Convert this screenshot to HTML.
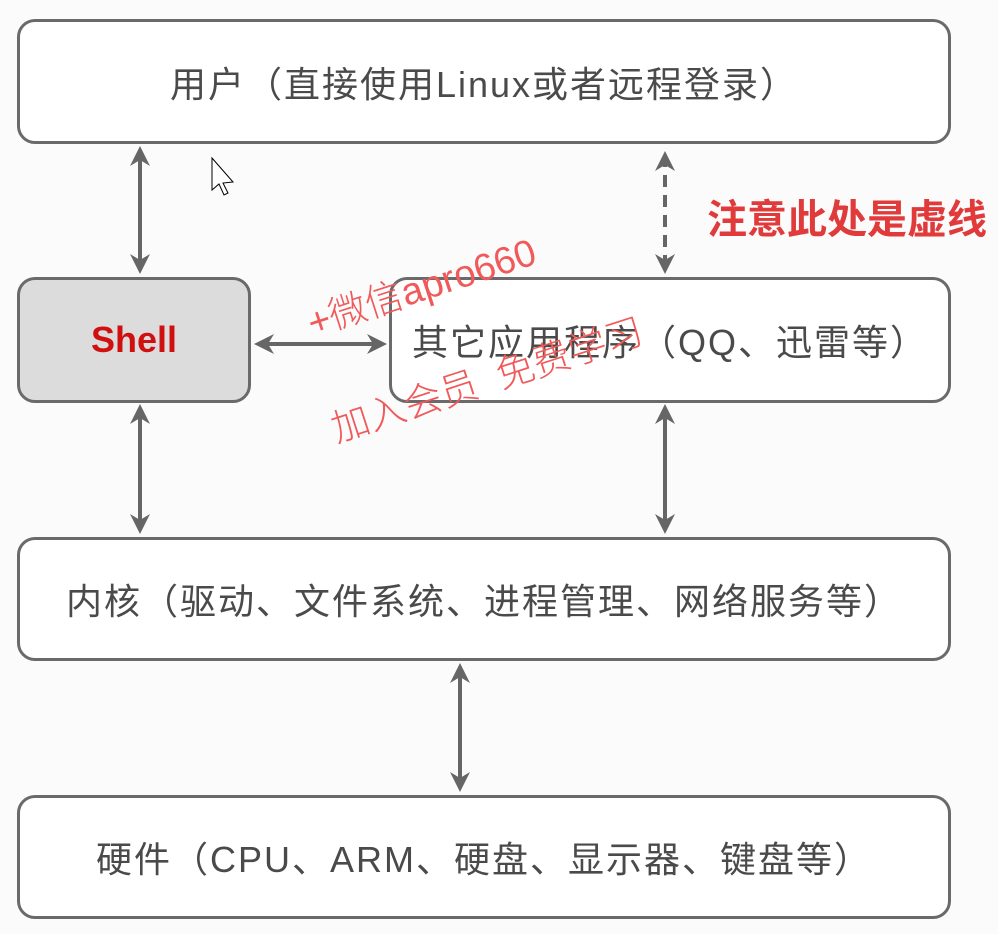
<!DOCTYPE html>
<html><head><meta charset="utf-8"><style>
html,body{margin:0;padding:0;}
body{width:998px;height:934px;background:#fbfbfc;position:relative;overflow:hidden;font-family:"Liberation Sans","Noto Sans CJK SC",sans-serif;}
.box{position:absolute;box-sizing:border-box;border:3px solid #6a6a6a;border-radius:18px;background:#fff;display:flex;align-items:center;justify-content:center;color:#4a4a4a;font-size:36px;letter-spacing:2px;}
.wm{position:absolute;color:#f05a5a;font-size:38px;white-space:nowrap;transform-origin:left bottom;font-weight:300;}
</style></head><body>
<div class="box" style="left:17px;top:19px;width:934px;height:125px;">用户（直接使用Linux或者远程登录）</div>
<div class="box" style="left:17px;top:277px;width:234px;height:126px;background:#dcdcdc;color:#d01010;font-weight:bold;font-size:36px;letter-spacing:0;">Shell</div>
<div class="box" style="left:389px;top:277px;width:562px;height:126px;">其它应用程序（QQ、迅雷等）</div>
<div class="box" style="left:17px;top:537px;width:934px;height:124px;">内核（驱动、文件系统、进程管理、网络服务等）</div>
<div class="box" style="left:17px;top:795px;width:934px;height:124px;">硬件（CPU、ARM、硬盘、显示器、键盘等）</div>
<div style="position:absolute;left:707px;top:187px;color:#e03a3a;font-size:40px;font-weight:bold;">注意此处是虚线</div>
<svg width="998" height="934" style="position:absolute;left:0;top:0">
<defs><marker id="a" viewBox="0 0 10 10" refX="8" refY="5" markerWidth="5" markerHeight="5" orient="auto-start-reverse"><path d="M0,0 L10,5 L0,10 L3,5z" fill="#666"/></marker></defs>
<g stroke="#666" stroke-width="4" marker-start="url(#a)" marker-end="url(#a)">
<line x1="140" y1="150" x2="140" y2="270"/>
<line x1="140" y1="408" x2="140" y2="530"/>
<line x1="665" y1="408" x2="665" y2="530"/>
<line x1="460" y1="667" x2="460" y2="788"/>
<line x1="258" y1="344" x2="383" y2="344"/>
<line x1="665" y1="155" x2="665" y2="270" stroke-dasharray="12,8"/>
</g>
<path d="M212,158 L212,190 L219,184 L224,195 L228,193 L223,183 L233,182Z" fill="#fff" stroke="#000" stroke-width="1"/>
</svg>
<div class="wm" style="left:316px;top:292px;transform:rotate(-18deg);">+微信apro660</div>
<div class="wm" style="left:340px;top:398px;transform:rotate(-18deg);">加入会员&nbsp;&nbsp;免费学习</div>
</body></html>
